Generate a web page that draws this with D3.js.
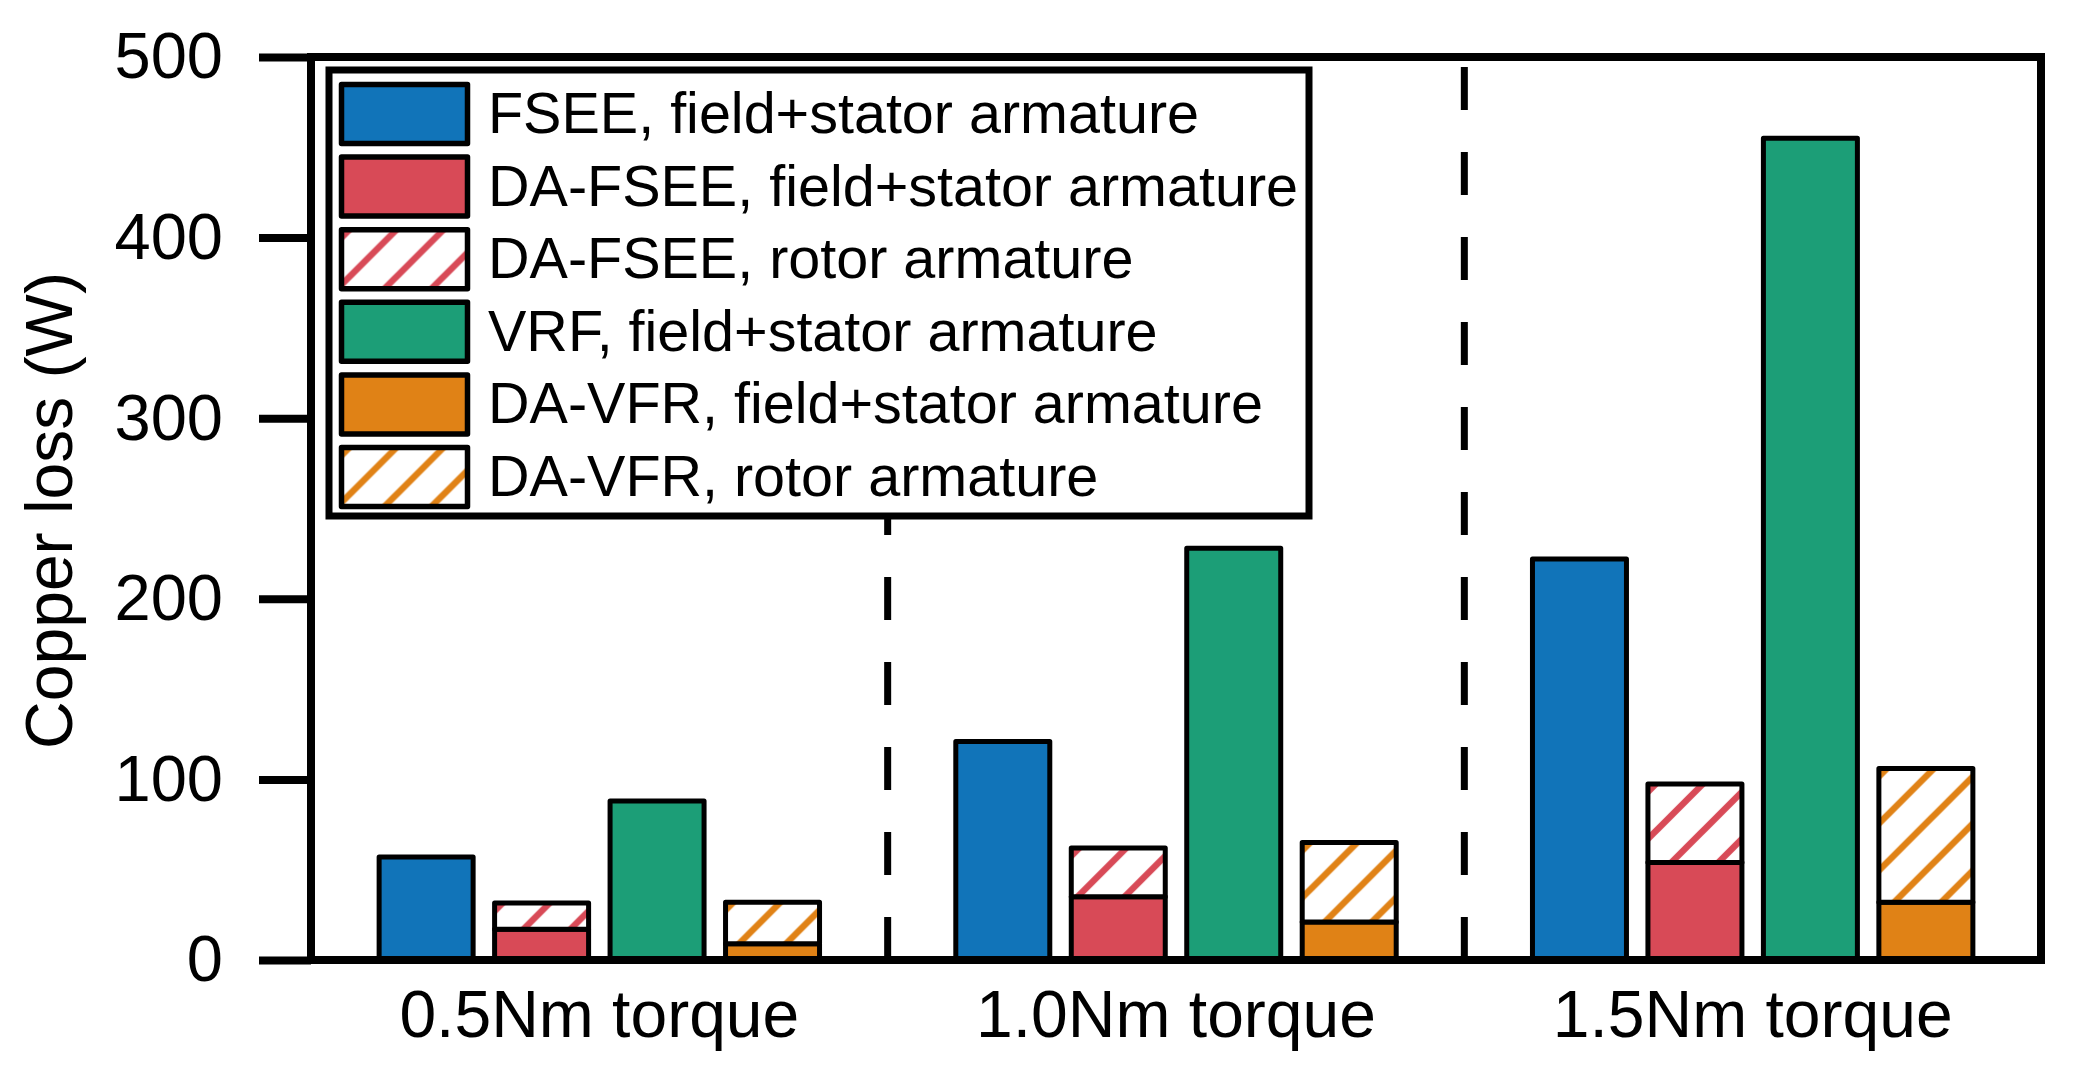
<!DOCTYPE html>
<html>
<head>
<meta charset="utf-8">
<script src="https://cdn.jsdelivr.net/npm/d3@7"></script>
<style>
  body { margin: 0; background: #fff; }
  svg { display: block; }
</style>
</head>
<body>
<div id="chart"></div>
<script>
// data (W)
const groups = ["0.5Nm torque", "1.0Nm torque", "1.5Nm torque"];
const machines = ["FSEE", "DA-FSEE", "VRF", "DA-VFR"];
const fseeStator = [57, 121, 222];
const daFseeStator = [17, 35, 54];
const daFseeRotor = [14.5, 27, 43.5];
const vrfStator = [88, 228, 455];
const daVfrStator = [9, 21, 32];
const daVfrRotor = [23, 44, 74];
const yTicks = [0, 100, 200, 300, 400, 500];
const legendLabels = [
  "FSEE, field+stator armature",
  "DA-FSEE, field+stator armature",
  "DA-FSEE, rotor armature",
  "VRF, field+stator armature",
  "DA-VFR, field+stator armature",
  "DA-VFR, rotor armature"
];

const colors = { blue: "#1174b9", red: "#d84a57", green: "#1c9e77", orange: "#e08216" };
const font = "'Liberation Sans', Arial, sans-serif";

var width = 2076, height = 1074;
var margin = { top: 57, right: 35, bottom: 114, left: 311 };

var svg = d3.select("#chart").append("svg")
  .attr("width", width)
  .attr("height", height)
  .attr("viewBox", [0, 0, width, height]);

// hatch patterns, one per hatched rect so the stripes start at the same spot in each
var defs = svg.append("defs");
var hatchCount = 0;
function hatch(color, ox, oy) {
  const s = 47;
  const id = "hatch" + (hatchCount++);
  const p = defs.append("pattern")
    .attr("id", id)
    .attr("patternUnits", "userSpaceOnUse")
    .attr("x", ox + 8).attr("y", oy)
    .attr("width", s).attr("height", s);
  p.append("rect").attr("width", s).attr("height", s).attr("fill", "#fff");
  p.append("path")
    .attr("d", `M0,${s} L${s},0 M${-s / 4},${s / 4} L${s / 4},${-s / 4} M${s * 3 / 4},${s * 5 / 4} L${s * 5 / 4},${s * 3 / 4}`)
    .attr("stroke", color)
    .attr("stroke-width", 6.5);
  return `url(#${id})`;
}

// one entry per bar segment, built from the arrays above
var segments = [];
groups.forEach((g, i) => {
  segments.push({ group: g, machine: "FSEE", y0: 0, y1: fseeStator[i], fill: colors.blue });
  segments.push({ group: g, machine: "DA-FSEE", y0: 0, y1: daFseeStator[i], fill: colors.red });
  segments.push({ group: g, machine: "DA-FSEE", y0: daFseeStator[i], y1: daFseeStator[i] + daFseeRotor[i], hatch: colors.red });
  segments.push({ group: g, machine: "VRF", y0: 0, y1: vrfStator[i], fill: colors.green });
  segments.push({ group: g, machine: "DA-VFR", y0: 0, y1: daVfrStator[i], fill: colors.orange });
  segments.push({ group: g, machine: "DA-VFR", y0: daVfrStator[i], y1: daVfrStator[i] + daVfrRotor[i], hatch: colors.orange });
});

var x0 = d3.scaleBand()
  .domain(groups)
  .range([margin.left, width - margin.right]);

var x1 = d3.scaleBand()
  .domain(machines)
  .range([0, x0.bandwidth()])
  .paddingInner(0.186)
  .paddingOuter(0.59);

var y = d3.scaleLinear()
  .domain([0, 500])
  .range([height - margin.bottom, margin.top]);

// dashed dividers between groups
svg.append("g").selectAll("line")
  .data(groups.slice(1))
  .join("line")
  .attr("x1", d => x0(d))
  .attr("x2", d => x0(d))
  .attr("y1", margin.top + 10)
  .attr("y2", y(0))
  .attr("stroke", "#000")
  .attr("stroke-width", 7)
  .attr("stroke-dasharray", "43,42");

// bars
svg.append("g").selectAll("rect")
  .data(segments)
  .join("rect")
  .attr("x", d => x0(d.group) + x1(d.machine))
  .attr("y", d => y(d.y1))
  .attr("width", x1.bandwidth())
  .attr("height", d => y(d.y0) - y(d.y1))
  .attr("fill", d => d.hatch ? hatch(d.hatch, x0(d.group) + x1(d.machine), y(d.y1)) : d.fill)
  .attr("stroke", "#000")
  .attr("stroke-width", 5)
  .attr("stroke-linejoin", "round");

// y axis
var yAxis = d3.axisLeft(y).tickValues(yTicks).tickSize(52).tickPadding(36).tickSizeOuter(0);
svg.append("g")
  .attr("transform", `translate(${margin.left},0)`)
  .call(yAxis)
  .call(g => g.select(".domain").remove())
  .call(g => g.selectAll(".tick line").attr("stroke", "#000").attr("stroke-width", 8))
  .call(g => g.selectAll(".tick text")
    .attr("fill", "#000")
    .style("font-family", font)
    .style("font-size", "65px"));

// x axis labels
var xAxis = d3.axisBottom(x0).tickSize(0).tickPadding(30);
svg.append("g")
  .attr("transform", `translate(0,${y(0)})`)
  .call(xAxis)
  .call(g => g.select(".domain").remove())
  .call(g => g.selectAll(".tick text")
    .attr("fill", "#000")
    .style("font-family", font)
    .style("font-size", "66px"));

// y label
svg.append("text")
  .attr("transform", `translate(72,${(y(0) + y(500)) / 2 + 2}) rotate(-90)`)
  .attr("text-anchor", "middle")
  .style("font-family", font)
  .style("font-size", "66px")
  .text("Copper loss (W)");

// legend
var legend = svg.append("g");
legend.append("rect")
  .attr("x", 329).attr("y", 70)
  .attr("width", 980).attr("height", 446)
  .attr("fill", "#fff")
  .attr("stroke", "#000")
  .attr("stroke-width", 7);

var rowH = 72.6;
var swatchFills = [colors.blue, colors.red, colors.red, colors.green, colors.orange, colors.orange];
var swatchHatched = [false, false, true, false, false, true];

var item = legend.selectAll(".item")
  .data(legendLabels)
  .join("g")
  .attr("class", "item")
  .attr("transform", (d, i) => `translate(0,${114 + i * rowH})`);

item.append("rect")
  .attr("x", 341.5).attr("y", -29.5)
  .attr("width", 126).attr("height", 59)
  .attr("fill", (d, i) => swatchHatched[i] ? hatch(swatchFills[i], 341.5, -29.5) : swatchFills[i])
  .attr("stroke", "#000")
  .attr("stroke-width", 5.5)
  .attr("stroke-linejoin", "round");

item.append("text")
  .attr("x", 488)
  .attr("y", 19)
  .style("font-family", font)
  .style("font-size", "57.5px")
  .text(d => d);

// plot frame
svg.append("rect")
  .attr("x", margin.left)
  .attr("y", margin.top)
  .attr("width", width - margin.left - margin.right)
  .attr("height", y(0) - margin.top)
  .attr("fill", "none")
  .attr("stroke", "#000")
  .attr("stroke-width", 8);
</script>
</body>
</html>
